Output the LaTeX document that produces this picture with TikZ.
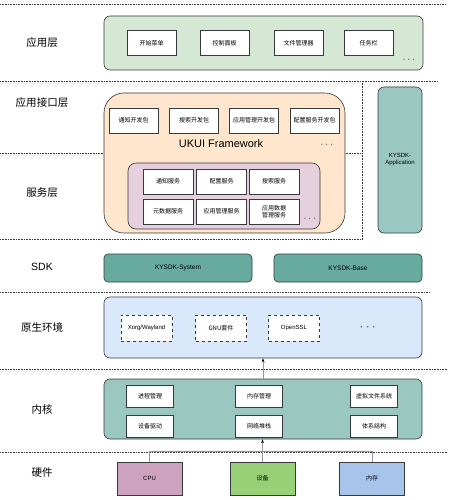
\documentclass[tikz,border=0pt]{standalone}
\usepackage{fontspec}
\setmainfont{Liberation Sans}
\newfontfamily\cjk{Noto Sans CJK SC}
\usetikzlibrary{arrows.meta}

\definecolor{edgec}{HTML}{36393D}
\definecolor{appc}{HTML}{D5E8D4}
\definecolor{ukuic}{HTML}{FFE6CC}
\definecolor{svcc}{HTML}{E6D0DE}
\definecolor{tealc}{HTML}{9AC7BF}
\definecolor{sdkc}{HTML}{67AB9F}
\definecolor{nativec}{HTML}{DAE8FC}
\definecolor{cpuc}{HTML}{CDA2BE}
\definecolor{devc}{HTML}{97D077}
\definecolor{memc}{HTML}{A9C4EB}

\tikzset{
  layer/.style={draw=edgec, line width=0.6pt, rounded corners=6pt, inner sep=0pt},
  item/.style={draw=edgec, fill=white, line width=0.6pt, inner sep=0pt,
    minimum width=49pt, minimum height=25pt, align=center,
    font=\cjk\fontsize{6}{7}\selectfont},
  hw/.style={item, minimum width=65pt, minimum height=33pt},
  sdk/.style={layer, fill=sdkc, rounded corners=4pt, minimum width=148pt,
    minimum height=28pt, font=\fontsize{6.5}{7.5}\selectfont},
  title/.style={font=\cjk\fontsize{10.5}{12}\selectfont},
  more/.style={text=black!55, font=\bfseries\fontsize{8}{9}\selectfont},
  sep/.style={densely dotted, edgec, line width=0.6pt},
  link/.style={draw=gray!80, line width=0.8pt},
}

\begin{document}
\begin{tikzpicture}[x=1pt, y=-1pt]
  \useasboundingbox (0,0) rectangle (453,500);

  % layer separators
  \draw[sep] (0,4) -- (445,4);
  \draw[sep] (0,81) -- (437,81);
  \draw[sep] (0,153) -- (362,153);
  \draw[sep] (0,239) -- (362,239);
  \draw[sep] (362,81) -- (362,239);
  \draw[sep] (0,292) -- (430,292);
  \draw[sep] (0,369) -- (447,369);
  \draw[sep] (0,452) -- (447,452);

  % layer titles
  \node[title] (tapp) at (42,43) {应用层};
  \node[title] (tapi) at (42,103) {应用接口层};
  \node[title] (tsvc) at (42,193) {服务层};
  \node[font=\fontsize{10.5}{12}\selectfont] (tsdk) at (42,267) {SDK};
  \node[title] (tnat) at (42,327) {原生环境};
  \node[title] (tker) at (42,409) {内核};
  \node[title] (thw) at (42,473) {硬件};

  % application layer
  \node[layer, fill=appc, minimum width=319pt, minimum height=54pt] (app) at (263.5,43) {};
  \node[item] (menu) at (151.5,43) {开始菜单};
  \node[item] (panel) at (224.5,43) {控制面板};
  \node[item] (files) at (298.5,43) {文件管理器};
  \node[item] (task) at (368.5,43) {任务栏};
  \node[more] (appmore) at (409,61) {· · ·};

  % UKUI framework
  \node[layer, fill=ukuic, rounded corners=20pt, minimum width=241pt, minimum height=140pt] (ukui) at (224.5,163) {};
  \node[item] (notifydev) at (133.5,120.5) {通知开发包};
  \node[item] (searchdev) at (194,120.5) {搜索开发包};
  \node[item] (appmgrdev) at (254,120.5) {应用管理开发包};
  \node[item] (confdev) at (314.5,120.5) {配置服务开发包};
  \node[font=\fontsize{11}{13}\selectfont] (ukuititle) at (221,144) {UKUI Framework};
  \node[more] (ukuimore) at (327,146) {· · ·};

  % services
  \node[layer, fill=svcc, rounded corners=8pt, minimum width=192pt, minimum height=66pt] (svc) at (224,196) {};
  \node[item, minimum width=50pt] (notifysvc) at (168,181.5) {通知服务};
  \node[item, minimum width=50pt] (confsvc) at (221.5,181.5) {配置服务};
  \node[item, minimum width=50pt] (searchsvc) at (274,181.5) {搜索服务};
  \node[item, minimum width=50pt] (metasvc) at (168,211.5) {元数据服务};
  \node[item, minimum width=50pt] (appmgrsvc) at (221.5,211.5) {应用管理服务};
  \node[item, minimum width=50pt] (datasvc) at (274,211.5) {应用数据\\管理服务};
  \node[more] (svcmore) at (310,220) {· · ·};

  % KYSDK
  \node[layer, fill=tealc, minimum width=44pt, minimum height=146pt, align=center,
    font=\fontsize{6}{7}\selectfont] (kyapp) at (400,160) {KYSDK-\\Application};
  \node[sdk] (kysys) at (178,268) {KYSDK-System};
  \node[sdk] (kybase) at (348,268) {KYSDK-Base};

  % native environment
  \node[layer, fill=nativec, minimum width=318pt, minimum height=61pt] (native) at (263,327.5) {};
  \node[item, dashed, minimum width=51pt, minimum height=26pt, font=\fontsize{6}{7}\selectfont] (xorg) at (146.5,328) {Xorg/Wayland};
  \node[item, dashed, minimum width=51pt, minimum height=26pt] (gnu) at (221,328) {GNU套件};
  \node[item, dashed, minimum width=51pt, minimum height=26pt, font=\fontsize{6}{7}\selectfont] (ssl) at (294,328) {OpenSSL};
  \node[more, font=\bfseries\fontsize{10}{11}\selectfont] (natmore) at (368,328) {· · ·};

  % kernel
  \node[layer, fill=tealc, minimum width=318pt, minimum height=60pt] (kernel) at (263,409) {};
  \node[item, minimum width=47pt, minimum height=22pt] (proc) at (150,396.5) {进程管理};
  \node[item, minimum width=47pt, minimum height=22pt] (memmgr) at (259,396.5) {内存管理};
  \node[item, minimum width=47pt, minimum height=22pt] (vfs) at (374,396.5) {虚拟文件系统};
  \node[item, minimum width=47pt, minimum height=22pt] (drv) at (150,426) {设备驱动};
  \node[item, minimum width=47pt, minimum height=22pt] (net) at (259,426) {网络堆栈};
  \node[item, minimum width=47pt, minimum height=22pt] (arch) at (374,426) {体系结构};

  % hardware
  \node[hw, fill=cpuc, font=\fontsize{6}{7}\selectfont] (cpu) at (149.5,478.5) {CPU};
  \node[hw, fill=devc] (dev) at (262.5,478.5) {设备};
  \node[hw, fill=memc] (mem) at (372,478.5) {内存};

  % connectors
  \coordinate (hwjoin) at (262.5,451);
  \draw[link] (cpu.north) |- (hwjoin);
  \draw[link] (mem.north) |- (hwjoin);
  \draw[link, -{Stealth[length=4pt, width=3pt, black]}] (dev.north) -- (dev.north |- kernel.south);
  \draw[link, -{Stealth[length=4pt, width=3pt, black]}] (kernel.north) -- (native.south);
\end{tikzpicture}
\end{document}
